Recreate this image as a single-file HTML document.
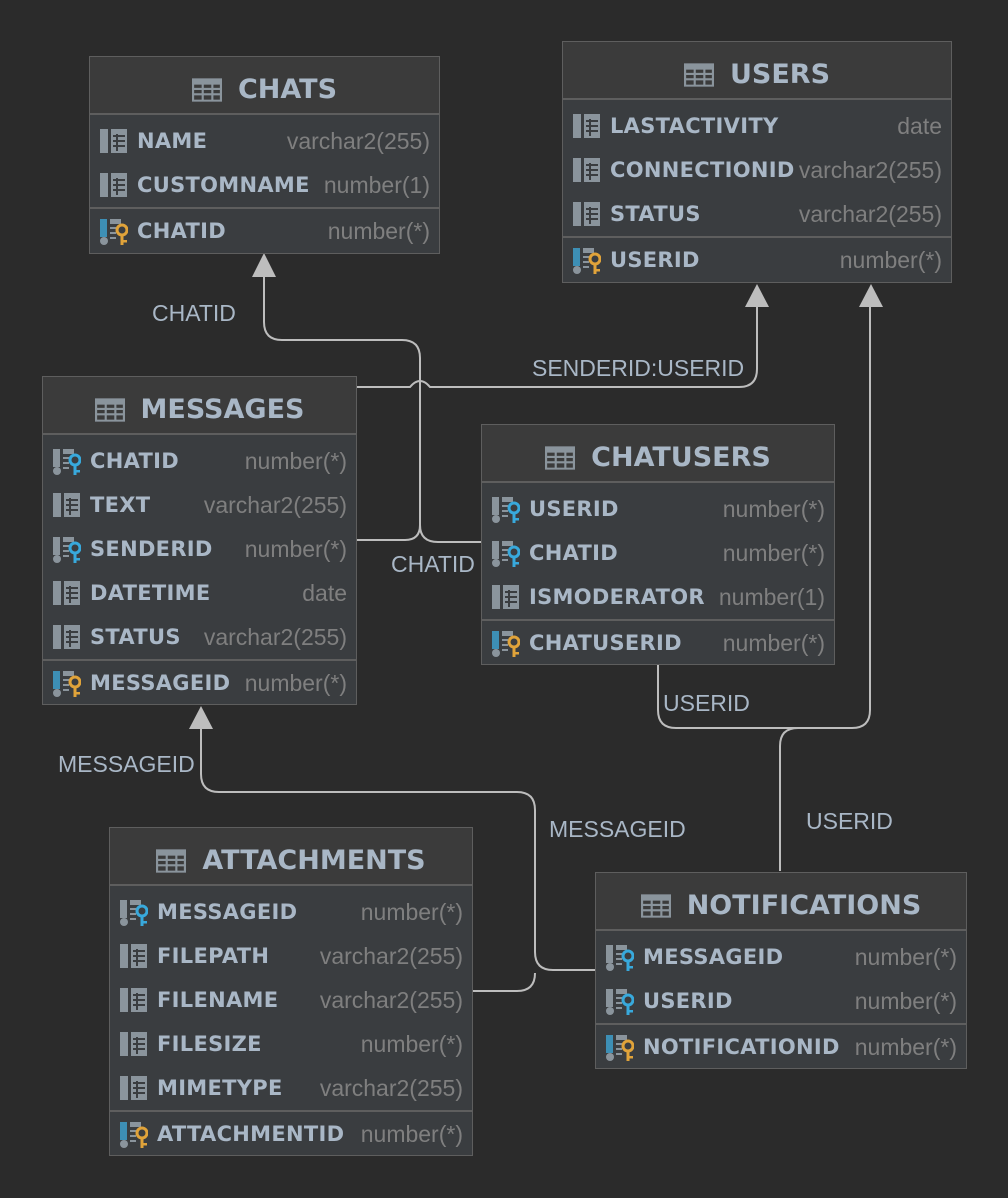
<!DOCTYPE html>
<html><head><meta charset="utf-8"><style>
html,body{margin:0;padding:0}
body{width:1008px;height:1198px;background:#2b2b2b;position:relative;overflow:hidden;font-family:"Liberation Sans",sans-serif}
.t{position:absolute;background:#3a3d40;border:1px solid #5e5e5e;box-sizing:border-box}
.h{height:58px;padding-top:9px;background:#3b3b3b;border-bottom:2px solid #5e5e5e;box-sizing:border-box;display:flex;align-items:center;justify-content:center;color:#a9b7c6;font:bold 27px "DejaVu Sans",sans-serif}
.h svg{margin-right:16px}
.b{padding-top:4px}
.r{height:44px;display:flex;align-items:center;position:relative}
.r svg{position:absolute;left:10px;top:10px}
.n{position:absolute;left:47px;color:#a9b7c6;font:bold 21px "DejaVu Sans",sans-serif;white-space:nowrap;letter-spacing:0.3px}
.y{position:absolute;right:9px;color:#7f7f7f;font-size:23px;white-space:nowrap}
.d{height:0;border-top:2px solid #5e5e5e}
.l{position:absolute;color:#a9b7c6;font-size:23px;white-space:nowrap}
</style></head><body>
<svg width="0" height="0" style="position:absolute">
<defs>
<symbol id="tb" viewBox="0 0 28 22"><rect x="0" y="0" width="28" height="22" fill="#8a949c"/><g fill="#3b3b3b"><rect x="2" y="6" width="7" height="3"/><rect x="11" y="6" width="7" height="3"/><rect x="20" y="6" width="6" height="3"/><rect x="2" y="11" width="7" height="3"/><rect x="11" y="11" width="7" height="3"/><rect x="20" y="11" width="6" height="3"/><rect x="2" y="16" width="7" height="4"/><rect x="11" y="16" width="7" height="4"/><rect x="20" y="16" width="6" height="4"/></g></symbol>
<symbol id="col" viewBox="0 0 28 24"><rect x="0" y="0" width="8" height="24" fill="#8a949c"/><rect x="11" y="0" width="16" height="24" fill="#8a949c"/><g fill="#3a3d40"><rect x="16" y="5" width="2" height="17"/><rect x="13" y="6" width="12" height="2"/><rect x="13" y="11" width="12" height="2"/><rect x="13" y="16" width="12" height="2"/></g></symbol>
<symbol id="fk" viewBox="0 0 28 26"><rect x="0" y="0" width="7" height="18" fill="#8a949c"/><circle cx="4" cy="22" r="4" fill="#8a949c"/><rect x="10" y="0" width="11" height="5" fill="#8a949c"/><g fill="#8a949c"><rect x="10" y="8" width="6" height="2"/><rect x="10" y="13" width="6" height="2"/><rect x="10" y="18" width="6" height="2"/></g><circle cx="22" cy="11" r="5" fill="none" stroke="#38a9dc" stroke-width="3"/><rect x="20.5" y="15" width="3" height="11" fill="#38a9dc"/><rect x="23" y="21" width="4" height="2.5" fill="#38a9dc"/></symbol>
<symbol id="pk" viewBox="0 0 28 26"><rect x="0" y="0" width="7" height="18" fill="#3d8fb5"/><circle cx="4" cy="22" r="4" fill="#8a949c"/><rect x="10" y="0" width="11" height="5" fill="#8a949c"/><g fill="#8a949c"><rect x="10" y="8" width="6" height="2"/><rect x="10" y="13" width="6" height="2"/><rect x="10" y="18" width="6" height="2"/></g><circle cx="22" cy="11" r="5" fill="none" stroke="#e0a33a" stroke-width="3"/><rect x="20.5" y="15" width="3" height="11" fill="#e0a33a"/><rect x="23" y="21" width="4" height="2.5" fill="#e0a33a"/></symbol>
</defs></svg>

<svg width="1008" height="1198" style="position:absolute;left:0;top:0" fill="none" stroke="#bdbdbd" stroke-width="2">
<path d="M264 275 V322 Q264 340 282 340 H402 Q420 340 420 358 V525 Q420 540 405 540 H357"/>
<path d="M420 525 Q420 542 438 542 H481"/>
<path d="M357 387 H410 Q420 375 430 387 H739 Q757 387 757 369 V305"/>
<path d="M658 665 V710 Q658 728 676 728 H852 Q870 728 870 710 V305"/>
<path d="M780 871 V746 Q780 728 798 728"/>
<path d="M201 728 V774 Q201 792 219 792 H517 Q535 792 535 810 V952 Q535 970 553 970 H595"/>
<path d="M473 991 H517 Q535 991 535 973"/>
<g fill="#bdbdbd" stroke="none">
<polygon points="264,253 252,277 276,277"/>
<polygon points="757,284 745,307 769,307"/>
<polygon points="871,284 859,307 883,307"/>
<polygon points="201,706 189,729 213,729"/>
</g>
</svg>

<div class="l" style="left:152px;top:300px">CHATID</div>
<div class="l" style="left:532px;top:355px">SENDERID:USERID</div>
<div class="l" style="left:391px;top:551px">CHATID</div>
<div class="l" style="left:663px;top:690px">USERID</div>
<div class="l" style="left:58px;top:751px">MESSAGEID</div>
<div class="l" style="left:549px;top:816px">MESSAGEID</div>
<div class="l" style="left:806px;top:808px">USERID</div>

<div class="t" style="left:89px;top:56px;width:351px;height:198px">
<div class="h"><svg width="30" height="24" viewBox="0 0 28 22"><use href="#tb"/></svg>CHATS</div>
<div class="b">
<div class="r"><svg width="28" height="24"><use href="#col"/></svg><span class="n">NAME</span><span class="y">varchar2(255)</span></div>
<div class="r"><svg width="28" height="24"><use href="#col"/></svg><span class="n">CUSTOMNAME</span><span class="y">number(1)</span></div>
<div class="d"></div>
<div class="r"><svg width="28" height="26"><use href="#pk"/></svg><span class="n">CHATID</span><span class="y">number(*)</span></div>
</div></div>

<div class="t" style="left:562px;top:41px;width:390px;height:242px">
<div class="h"><svg width="30" height="24" viewBox="0 0 28 22"><use href="#tb"/></svg>USERS</div>
<div class="b">
<div class="r"><svg width="28" height="24"><use href="#col"/></svg><span class="n">LASTACTIVITY</span><span class="y">date</span></div>
<div class="r"><svg width="28" height="24"><use href="#col"/></svg><span class="n">CONNECTIONID</span><span class="y">varchar2(255)</span></div>
<div class="r"><svg width="28" height="24"><use href="#col"/></svg><span class="n">STATUS</span><span class="y">varchar2(255)</span></div>
<div class="d"></div>
<div class="r"><svg width="28" height="26"><use href="#pk"/></svg><span class="n">USERID</span><span class="y">number(*)</span></div>
</div></div>

<div class="t" style="left:42px;top:376px;width:315px;height:329px">
<div class="h"><svg width="30" height="24" viewBox="0 0 28 22"><use href="#tb"/></svg>MESSAGES</div>
<div class="b">
<div class="r"><svg width="28" height="26"><use href="#fk"/></svg><span class="n">CHATID</span><span class="y">number(*)</span></div>
<div class="r"><svg width="28" height="24"><use href="#col"/></svg><span class="n">TEXT</span><span class="y">varchar2(255)</span></div>
<div class="r"><svg width="28" height="26"><use href="#fk"/></svg><span class="n">SENDERID</span><span class="y">number(*)</span></div>
<div class="r"><svg width="28" height="24"><use href="#col"/></svg><span class="n">DATETIME</span><span class="y">date</span></div>
<div class="r"><svg width="28" height="24"><use href="#col"/></svg><span class="n">STATUS</span><span class="y">varchar2(255)</span></div>
<div class="d"></div>
<div class="r"><svg width="28" height="26"><use href="#pk"/></svg><span class="n">MESSAGEID</span><span class="y">number(*)</span></div>
</div></div>

<div class="t" style="left:481px;top:424px;width:354px;height:241px">
<div class="h"><svg width="30" height="24" viewBox="0 0 28 22"><use href="#tb"/></svg>CHATUSERS</div>
<div class="b">
<div class="r"><svg width="28" height="26"><use href="#fk"/></svg><span class="n">USERID</span><span class="y">number(*)</span></div>
<div class="r"><svg width="28" height="26"><use href="#fk"/></svg><span class="n">CHATID</span><span class="y">number(*)</span></div>
<div class="r"><svg width="28" height="24"><use href="#col"/></svg><span class="n">ISMODERATOR</span><span class="y">number(1)</span></div>
<div class="d"></div>
<div class="r"><svg width="28" height="26"><use href="#pk"/></svg><span class="n">CHATUSERID</span><span class="y">number(*)</span></div>
</div></div>

<div class="t" style="left:109px;top:827px;width:364px;height:329px">
<div class="h"><svg width="30" height="24" viewBox="0 0 28 22"><use href="#tb"/></svg>ATTACHMENTS</div>
<div class="b">
<div class="r"><svg width="28" height="26"><use href="#fk"/></svg><span class="n">MESSAGEID</span><span class="y">number(*)</span></div>
<div class="r"><svg width="28" height="24"><use href="#col"/></svg><span class="n">FILEPATH</span><span class="y">varchar2(255)</span></div>
<div class="r"><svg width="28" height="24"><use href="#col"/></svg><span class="n">FILENAME</span><span class="y">varchar2(255)</span></div>
<div class="r"><svg width="28" height="24"><use href="#col"/></svg><span class="n">FILESIZE</span><span class="y">number(*)</span></div>
<div class="r"><svg width="28" height="24"><use href="#col"/></svg><span class="n">MIMETYPE</span><span class="y">varchar2(255)</span></div>
<div class="d"></div>
<div class="r"><svg width="28" height="26"><use href="#pk"/></svg><span class="n">ATTACHMENTID</span><span class="y">number(*)</span></div>
</div></div>

<div class="t" style="left:595px;top:872px;width:372px;height:197px">
<div class="h"><svg width="30" height="24" viewBox="0 0 28 22"><use href="#tb"/></svg>NOTIFICATIONS</div>
<div class="b">
<div class="r"><svg width="28" height="26"><use href="#fk"/></svg><span class="n">MESSAGEID</span><span class="y">number(*)</span></div>
<div class="r"><svg width="28" height="26"><use href="#fk"/></svg><span class="n">USERID</span><span class="y">number(*)</span></div>
<div class="d"></div>
<div class="r"><svg width="28" height="26"><use href="#pk"/></svg><span class="n">NOTIFICATIONID</span><span class="y">number(*)</span></div>
</div></div>
</body></html>
